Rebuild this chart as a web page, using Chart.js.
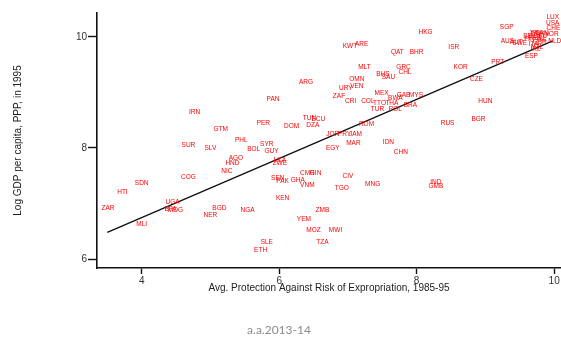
<!DOCTYPE html>
<html>
<head>
<meta charset="utf-8">
<script src="https://cdn.jsdelivr.net/npm/chart.js@4.4.0/dist/chart.umd.min.js"></script>
<style>
  html, body { margin: 0; padding: 0; background: #fff; }
  canvas { display: block; }
</style>
</head>
<body>
<canvas id="chart" width="561" height="339"></canvas>
<script>
// ---------- Data ----------
const countries = [
  "KWT","ARE","MLT","BHS","SAU","OMN","VEN","URY","ARG","ZAF",
  "CRI","COL","MEX","PAN","PER","DOM","TUN","ECU","DZA","TTO",
  "THA","TUR","POL","BRA","BWA","GAB","MYS","GRC","CHL","ROM",
  "RUS","JOR","PRY","JAM","MAR","EGY","IDN","CHN","CMR","GIN",
  "CIV","MNG","TGO","VNM","SEN","PAK","GHA","KEN","ZMB","YEM",
  "MOZ","MWI","TZA","SLE","ETH","NGA","LKA","ZWE","SYR","GUY",
  "BOL","PHL","AGO","HND","NIC","SLV","SUR","GTM","IRN","COG",
  "SDN","HTI","ZAR","UGA","BFA","MDG","BGD","NER","MLI","HKG",
  "SGP","ISR","QAT","BHR","KOR","PRT","CZE","HUN","BGR","ESP",
  "AUS","AUT","SWE","LUX","USA","CHE","NOR","NLD","IND","GMB",
  "JPN","DNK","BEL","FRA","DEU","CAN","FIN","GBR","ITA","NZL",
  "IRL","ISL"
];
const protection = [
  7.03,7.20,7.24,7.51,7.59,7.13,7.13,6.97,6.39,6.87,
  7.04,7.29,7.49,5.91,5.77,6.18,6.44,6.57,6.49,7.46,
  7.64,7.43,7.69,7.91,7.69,7.81,7.99,7.81,7.83,7.27,
  8.45,6.78,6.95,7.11,7.08,6.78,7.59,7.77,6.41,6.53,
  7.00,7.36,6.91,6.41,5.98,6.05,6.27,6.05,6.63,6.36,
  6.50,6.82,6.63,5.82,5.73,5.54,6.01,6.01,5.82,5.89,
  5.63,5.45,5.37,5.32,5.24,5.00,4.68,5.15,4.77,4.68,
  4.00,3.72,3.51,4.45,4.42,4.49,5.13,5.00,4.00,8.13,
  9.31,8.54,7.72,8.00,8.64,9.18,8.87,9.00,8.90,9.67,
  9.32,9.45,9.50,9.98,9.98,9.99,9.96,10.01,8.28,8.28,
  9.72,9.76,9.64,9.72,9.80,9.82,9.64,9.79,9.70,9.75,
  9.73,9.82
];
const logGdp = [
  9.84,9.86,9.46,9.33,9.28,9.24,9.12,9.08,9.19,8.94,
  8.85,8.85,8.99,8.88,8.45,8.40,8.54,8.52,8.41,8.81,
  8.81,8.70,8.70,8.77,8.90,8.95,8.95,9.46,9.37,8.43,
  8.45,8.25,8.25,8.25,8.09,8.00,8.11,7.93,7.55,7.55,
  7.50,7.35,7.28,7.33,7.46,7.41,7.42,7.10,6.88,6.72,
  6.52,6.52,6.31,6.31,6.16,6.88,7.78,7.73,8.07,7.95,
  7.98,8.14,7.82,7.73,7.59,8.00,8.05,8.34,8.65,7.48,
  7.37,7.21,6.92,7.03,6.90,6.88,6.92,6.79,6.63,10.09,
  10.18,9.82,9.73,9.73,9.46,9.55,9.24,8.85,8.52,9.66,
  9.93,9.91,9.89,10.36,10.25,10.16,10.05,9.93,7.39,7.32,
  10.07,10.04,10.02,9.98,10.02,10.07,9.95,9.91,9.87,9.82,
  9.77,9.96
];
const fitX = [3.5, 9.98];
const fitY = [6.48, 9.93];
const xTicks = [4, 6, 8, 10];
const yTicks = [6, 8, 10];

const FONT = "'Liberation Sans', Arial, sans-serif";

// ---------- Plugins ----------
const countryLabels = {
  id: "countryLabels",
  afterDatasetsDraw(chart) {
    const { ctx } = chart;
    const meta = chart.getDatasetMeta(0);
    ctx.save();
    ctx.font = `6.5px ${FONT}`;
    ctx.fillStyle = "#ff0000";
    ctx.textAlign = "center";
    ctx.textBaseline = "middle";
    meta.data.forEach((p, i) => ctx.fillText(countries[i], p.x, p.y));
    ctx.restore();
  }
};

const footer = {
  id: "footer",
  afterDraw(chart) {
    const { ctx } = chart;
    ctx.save();
    ctx.font = `12px Lato, ${FONT}`;
    ctx.fillStyle = "#8c8c8c";
    ctx.textAlign = "center";
    ctx.textBaseline = "middle";
    ctx.fillText("a.a.2013-14", 279, 330);
    ctx.restore();
  }
};

// ---------- Chart ----------
const points = protection.map((x, i) => ({ x, y: logGdp[i] }));
const fitLine = fitX.map((x, i) => ({ x, y: fitY[i] }));

new Chart(document.getElementById("chart").getContext("2d"), {
  type: "scatter",
  data: {
    datasets: [
      { label: "countries", data: points, pointRadius: 0, pointHoverRadius: 0 },
      { label: "fit", data: fitLine, showLine: true, borderColor: "#111", borderWidth: 1.4, pointRadius: 0, fill: false }
    ]
  },
  options: {
    responsive: false,
    animation: false,
    devicePixelRatio: 1,
    layout: { padding: { top: 13, right: 0, bottom: 0, left: 0 } },
    plugins: { legend: { display: false }, tooltip: { enabled: false } },
    scales: {
      x: {
        type: "linear", min: 3.35, max: 10.1,
        afterBuildTicks: (s) => { s.ticks = xTicks.map((v) => ({ value: v })); },
        afterFit: (s) => { s.height = 71; s.paddingLeft = 0; s.paddingRight = 0; },
        grid: { drawOnChartArea: false, tickLength: 6, tickWidth: 1.4, tickColor: "#111" },
        border: { color: "#111", width: 1.6 },
        ticks: { padding: 1, maxRotation: 0, color: "#333", font: { family: FONT, size: 10 } },
        title: {
          display: true, text: "Avg. Protection Against Risk of Expropriation, 1985-95",
          color: "#222", font: { family: FONT, size: 10 }, padding: { top: 0, bottom: 45 }
        }
      },
      y: {
        type: "linear", min: 5.84, max: 10.43,
        afterBuildTicks: (s) => { s.ticks = yTicks.map((v) => ({ value: v })); },
        afterFit: (s) => { s.width = 97; s.paddingTop = 0; s.paddingBottom = 0; },
        grid: { drawOnChartArea: false, tickLength: 9, tickWidth: 1.4, tickColor: "#111" },
        border: { color: "#111", width: 1.6 },
        ticks: { padding: 1, color: "#333", font: { family: FONT, size: 10 } },
        title: {
          display: true, text: "Log GDP per capita, PPP, in 1995",
          color: "#222", font: { family: FONT, size: 10 }, padding: { top: 12, bottom: 0 }
        }
      }
    }
  },
  plugins: [countryLabels, footer]
});
</script>
</body>
</html>
